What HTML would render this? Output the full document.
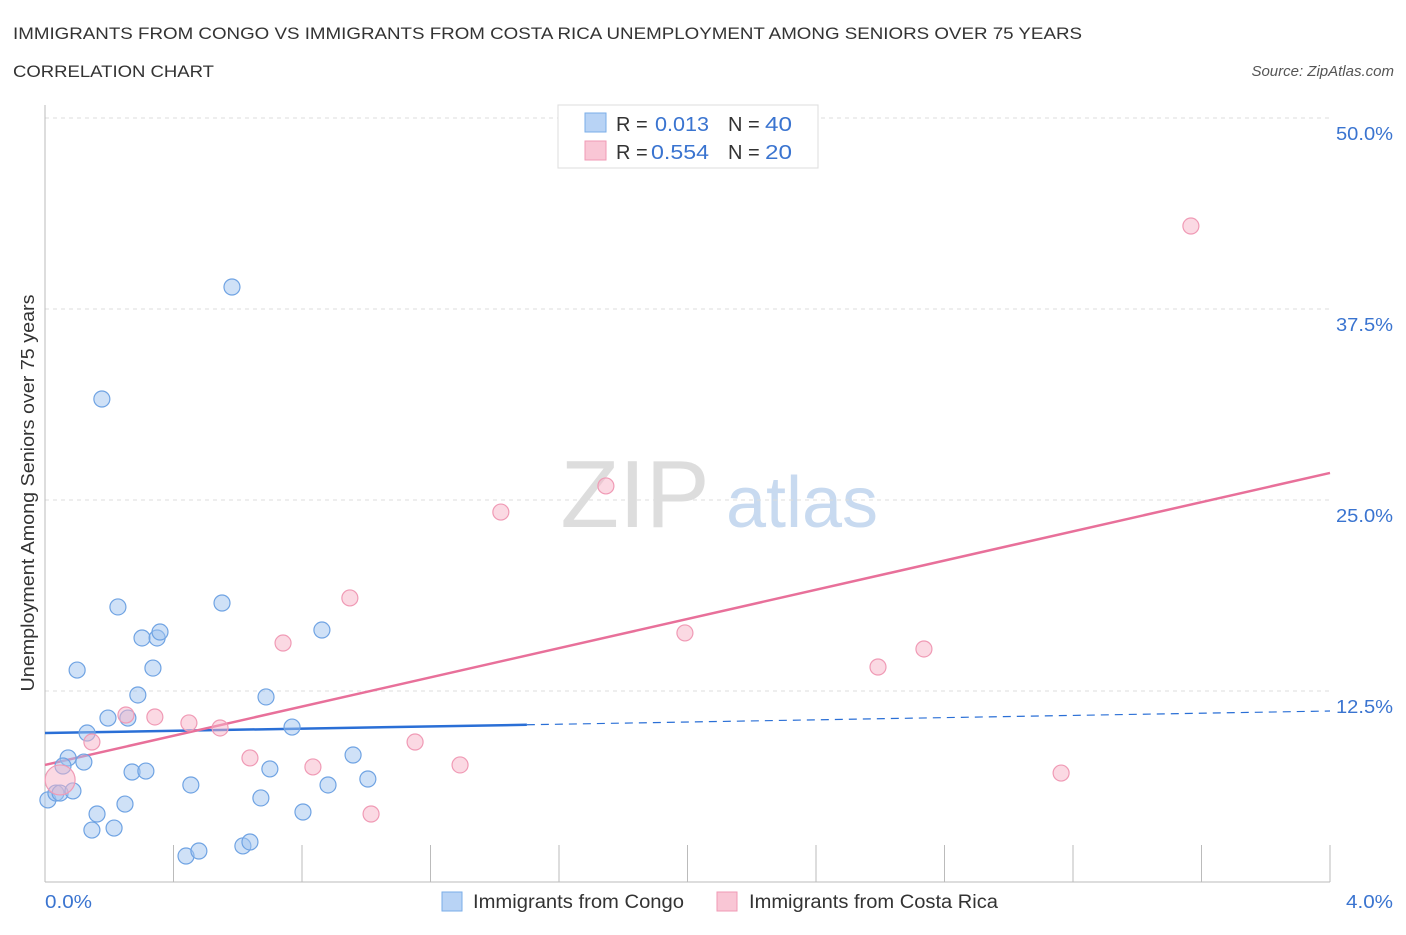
<!DOCTYPE html>
<html><head><meta charset="utf-8"><style>
body{margin:0;background:#fff;font-family:"Liberation Sans",sans-serif;}
svg text{font-family:"Liberation Sans",sans-serif;}
</style></head><body>
<svg id="chart" width="1406" height="930" xmlns="http://www.w3.org/2000/svg">
<text x="13" y="39" font-size="17" fill="#333" textLength="1069" lengthAdjust="spacingAndGlyphs">IMMIGRANTS FROM CONGO VS IMMIGRANTS FROM COSTA RICA UNEMPLOYMENT AMONG SENIORS OVER 75 YEARS</text>
<text x="13" y="77" font-size="17" fill="#333" textLength="201" lengthAdjust="spacingAndGlyphs">CORRELATION CHART</text>
<text x="1394" y="76" font-size="15" fill="#555" font-style="italic" text-anchor="end">Source: ZipAtlas.com</text>
<text x="635" y="527" font-size="96" fill="#ddd" font-family="Liberation Serif" text-anchor="middle">ZIP</text>
<text x="802" y="527" font-size="72" fill="#c8daf0" text-anchor="middle">atlas</text>
<g id="grid"></g>
<g id="axes"></g>
<g id="trends"></g>
<g id="points"></g>
<text transform="translate(34,493) rotate(-90)" font-size="18" fill="#333" text-anchor="middle" textLength="397" lengthAdjust="spacingAndGlyphs">Unemployment Among Seniors over 75 years</text>
<text x="45" y="908" font-size="18" fill="#3a74d0" textLength="47" lengthAdjust="spacingAndGlyphs">0.0%</text>
<text x="1346" y="908" font-size="18" fill="#3a74d0" textLength="47" lengthAdjust="spacingAndGlyphs">4.0%</text>
<g>
<rect x="558" y="105" width="260" height="63" fill="#fff" stroke="#ddd"/>
<rect x="585" y="113" width="21" height="19" fill="#b8d3f5" stroke="#7aaee8"/>
<rect x="585" y="141" width="21" height="19" fill="#f9c6d5" stroke="#f09ab5"/>
<text x="616" y="131" font-size="20" fill="#333">R = </text><text x="655" y="131" font-size="20" fill="#3a74d0" textLength="54" lengthAdjust="spacingAndGlyphs">0.013</text>
<text x="728" y="131" font-size="20" fill="#333">N = </text><text x="765" y="131" font-size="20" fill="#3a74d0" textLength="27" lengthAdjust="spacingAndGlyphs">40</text>
<text x="616" y="159" font-size="20" fill="#333">R = </text><text x="651" y="159" font-size="20" fill="#3a74d0" textLength="58" lengthAdjust="spacingAndGlyphs">0.554</text>
<text x="728" y="159" font-size="20" fill="#333">N = </text><text x="765" y="159" font-size="20" fill="#3a74d0" textLength="27" lengthAdjust="spacingAndGlyphs">20</text>
</g>
<g>
<rect x="442" y="892" width="20" height="19" fill="#b8d3f5" stroke="#7aaee8"/>
<text x="473" y="908" font-size="19" fill="#333" textLength="211" lengthAdjust="spacingAndGlyphs">Immigrants from Congo</text>
<rect x="717" y="892" width="20" height="19" fill="#f9c6d5" stroke="#f09ab5"/>
<text x="749" y="908" font-size="19" fill="#333" textLength="249" lengthAdjust="spacingAndGlyphs">Immigrants from Costa Rica</text>
</g>
</svg>
<script>
const yTicks=[12.5,25,37.5,50];
const yTickLabels=["12.5%","25.0%","37.5%","50.0%"];
const xTicks=[0,0.4,0.8,1.2,1.6,2.0,2.4,2.8,3.2,3.6,4.0];
const congoX=[0.582,0.177,0.227,0.551,0.302,0.349,0.358,0.862,0.100,0.336,0.289,0.688,0.196,0.258,0.131,0.769,0.072,0.121,0.056,0.271,0.314,0.700,0.959,1.005,0.454,0.881,0.009,0.034,0.047,0.087,0.249,0.672,0.162,0.803,0.146,0.215,0.439,0.479,0.616,0.638];
const congoY=[38.94,31.61,18.0,18.26,15.97,15.97,16.36,16.49,13.87,14.0,12.24,12.11,10.73,10.73,9.75,10.14,8.12,7.85,7.59,7.20,7.26,7.40,8.31,6.74,6.35,6.35,5.37,5.82,5.82,5.96,5.10,5.50,4.45,4.58,3.40,3.53,1.70,2.03,2.36,2.62];
const costaX=[3.567,1.746,1.419,0.949,1.992,0.741,2.736,2.593,0.252,0.342,0.448,0.545,0.146,1.152,0.638,0.834,1.292,3.163,1.015,0.047];
const costaY=[42.93,25.92,24.21,18.59,16.30,15.64,15.25,14.07,10.93,10.80,10.41,10.08,9.16,9.16,8.12,7.53,7.66,7.13,4.45,6.68];
const congoTrend=[9.75,11.19];
const costaTrend=[7.66,26.77];
const X0=45,X1=1330,Y0=882,Y1=118;
const sx=v=>X0+v/4*(X1-X0);
const sy=v=>Y0-v/50*(Y0-Y1);
const NS="http://www.w3.org/2000/svg";
function mk(tag,attrs,parent){const e=document.createElementNS(NS,tag);for(const k in attrs)e.setAttribute(k,attrs[k]);document.getElementById(parent).appendChild(e);return e;}
yTicks.forEach((t,i)=>{
  const l=mk('line',{x1:X0,x2:X1,y1:sy(t),y2:sy(t),stroke:'#ddd','stroke-dasharray':'4,4'},'grid');
  
  
  const tx=mk('text',{x:1336,y:sy(t)+22,'font-size':18,fill:'#3a74d0',textLength:57,lengthAdjust:'spacingAndGlyphs'},'grid');
  tx.textContent=yTickLabels[i];
  
  
});
let a=mk('line',{x1:X0,x2:X0,y1:105,y2:Y0,stroke:'#bbb'},'axes');


a=mk('line',{x1:X0,x2:X1,y1:Y0,y2:Y0,stroke:'#bbb'},'axes');


xTicks.forEach(t=>{
  const l=mk('line',{x1:sx(t),x2:sx(t),y1:845,y2:Y0,stroke:'#bbb'},'axes');
  
  
});
congoX.forEach((x,i)=>{
  const c=mk('circle',{cx:sx(x),cy:sy(congoY[i]),r:8,fill:'rgba(160,196,240,0.5)',stroke:'#6fa3e3','stroke-width':1.2},'points');
  
  
});
costaX.forEach((x,i)=>{
  const c=mk('circle',{cx:sx(x),cy:sy(costaY[i]),r:i===costaX.length-1?15:8,fill:'rgba(248,180,200,0.5)',stroke:'#f09ab5','stroke-width':1.2},'points');
  
  
});
const bm=congoTrend[0]+(congoTrend[1]-congoTrend[0])*1.5/4;
let t=mk('line',{x1:sx(0),y1:sy(congoTrend[0]),x2:sx(1.5),y2:sy(bm),stroke:'#2a6fd6','stroke-width':2.5},'trends');


t=mk('line',{x1:sx(1.5),y1:sy(bm),x2:sx(4),y2:sy(congoTrend[1]),stroke:'#2a6fd6','stroke-width':1.2,'stroke-dasharray':'8,6'},'trends');


t=mk('line',{x1:sx(0),y1:sy(costaTrend[0]),x2:sx(4),y2:sy(costaTrend[1]),stroke:'#e8709a','stroke-width':2.5},'trends');


</script>
</body></html>
